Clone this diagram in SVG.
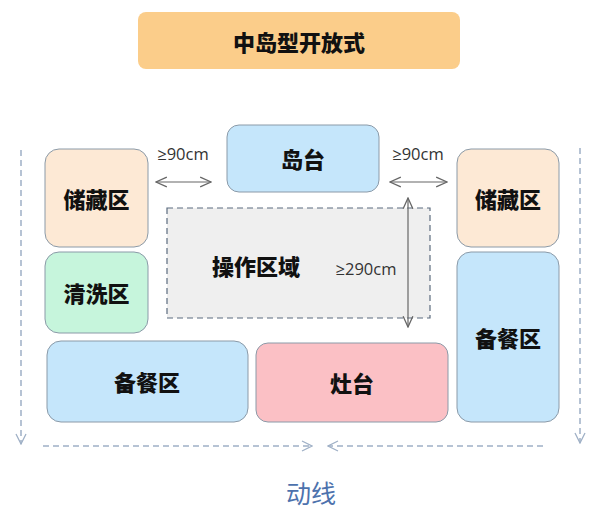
<svg xmlns="http://www.w3.org/2000/svg" width="600" height="525" viewBox="0 0 600 525">
<defs>
<style>
.box{stroke:#8b9aa8;stroke-width:1}
.lbl{font-family:"Noto Sans CJK SC","Noto Sans",sans-serif;font-weight:900;font-size:22px;fill:#111;text-anchor:middle;dominant-baseline:central}
.dim{font-family:"Open Sans","Liberation Sans","Noto Sans CJK SC",sans-serif;font-size:16.5px;fill:#333;text-anchor:middle}
.flow{stroke:#9fb0c6;stroke-width:1.5;stroke-dasharray:6 4;fill:none}
.dimline{stroke:#666;stroke-width:1.2;fill:none}
</style>
<marker id="fh" viewBox="0 0 12 12" refX="11" refY="6" markerWidth="12" markerHeight="12" markerUnits="userSpaceOnUse" orient="auto-start-reverse">
<path d="M1,1 L11,6 L1,11" fill="none" stroke="#9fb0c6" stroke-width="1.3"/>
</marker>
<marker id="dh" viewBox="0 0 12 12" refX="11" refY="6" markerWidth="13" markerHeight="13" markerUnits="userSpaceOnUse" orient="auto-start-reverse">
<path d="M1,1.5 L11,6 L1,10.5" fill="none" stroke="#666" stroke-width="1.2"/>
</marker>
</defs>
<rect width="600" height="525" fill="#ffffff"/>

<g id="title">
<rect x="138" y="12" width="322" height="57" rx="8" fill="#fbcd8a"/>
<text class="lbl" x="299" y="41">中岛型开放式</text>
</g>

<g id="storage-left">
<rect class="box" x="45" y="149" width="103" height="98" rx="14" fill="#fde9d5"/>
<text class="lbl" x="96.5" y="198">储藏区</text>
</g>
<g id="wash">
<rect class="box" x="45" y="252" width="103" height="81" rx="14" fill="#c6f5dc"/>
<text class="lbl" x="96.5" y="292">清洗区</text>
</g>
<g id="island">
<rect class="box" x="227" y="125" width="152" height="67" rx="12" fill="#c5e6fb"/>
<text class="lbl" x="303" y="158">岛台</text>
</g>
<g id="work">
<rect x="167" y="208" width="263" height="110" fill="#efefef" stroke="#5b6b7e" stroke-width="1.2" stroke-dasharray="6 4"/>
<text class="lbl" x="256" y="265">操作区域</text>
</g>
<g id="storage-right">
<rect class="box" x="457" y="149" width="102" height="98" rx="14" fill="#fde9d5"/>
<text class="lbl" x="508" y="198">储藏区</text>
</g>
<g id="prep-right">
<rect class="box" x="457" y="252" width="102" height="170" rx="14" fill="#c5e6fb"/>
<text class="lbl" x="508" y="337">备餐区</text>
</g>
<g id="prep-bottom">
<rect class="box" x="47" y="341" width="201" height="81" rx="14" fill="#c5e6fb"/>
<text class="lbl" x="147" y="381">备餐区</text>
</g>
<g id="stove">
<rect class="box" x="256" y="343" width="192" height="79" rx="12" fill="#fbc0c5"/>
<text class="lbl" x="352" y="382">灶台</text>
</g>

<g id="connectors">
<line class="dimline" x1="156" y1="182" x2="211" y2="182" marker-start="url(#dh)" marker-end="url(#dh)"/>
<line class="dimline" x1="390" y1="182" x2="447" y2="182" marker-start="url(#dh)" marker-end="url(#dh)"/>
<line class="dimline" x1="408" y1="198" x2="408" y2="327" marker-start="url(#dh)" marker-end="url(#dh)"/>
<line class="flow" x1="21" y1="150" x2="21" y2="444" marker-end="url(#fh)"/>
<line class="flow" x1="580" y1="148" x2="580" y2="443" marker-end="url(#fh)"/>
<line class="flow" x1="43" y1="446" x2="312" y2="446" marker-end="url(#fh)"/>
<line class="flow" x1="543" y1="446" x2="328" y2="446" marker-end="url(#fh)"/>
</g>

<g id="labels">
<text class="dim" x="183" y="160">≥90cm</text>
<text class="dim" x="418" y="160">≥90cm</text>
<text class="dim" x="366" y="275">≥290cm</text>
<text x="311" y="503" font-family="Noto Sans CJK SC,sans-serif" font-size="25" fill="#4d72ad" text-anchor="middle">动线</text>
</g>
</svg>
